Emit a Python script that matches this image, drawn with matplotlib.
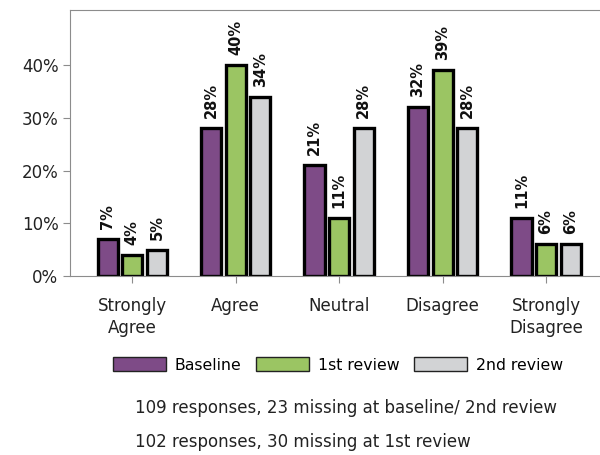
import numpy as np
import matplotlib
matplotlib.use("Agg")
import matplotlib.pyplot as plt
from matplotlib.patches import Patch

categories = ["Strongly\nAgree", "Agree", "Neutral", "Disagree", "Strongly\nDisagree"]
series = ["Baseline", "1st review", "2nd review"]
baseline = [7, 28, 21, 32, 11]
review1 = [4, 40, 11, 39, 6]
review2 = [5, 34, 28, 28, 6]
colors = ["#7e4b87", "#9bc563", "#d2d3d5"]
notes = ["109 responses, 23 missing at baseline/ 2nd review",
         "102 responses, 30 missing at 1st review"]

plt.rcParams['font.family'] = ['DejaVu Sans']
fig = plt.figure(figsize=(6, 4.55), dpi=100)
ax = fig.add_axes([0.117, 0.393, 0.9, 0.585])

x = np.arange(len(categories))
width = 0.195
step = 0.238
for i, (vals, col) in enumerate(zip([baseline, review1, review2], colors)):
    pos = x + (i - 1) * step
    ax.bar(pos, vals, width, color=col, edgecolor="black", linewidth=2.4)
    for p, v in zip(pos, vals):
        ax.text(p, v + 1.9, f"{v}%", rotation=90, ha="center", va="bottom",
                fontsize=10.5, fontweight="bold", color="#111111")

ax.set_xlim(-0.6, 4.62)
ax.set_ylim(0, 50.4)
ax.set_yticks([0, 10, 20, 30, 40])
ax.set_yticklabels([f"{t}%" for t in [0, 10, 20, 30, 40]])
ax.set_xticks(x)
ax.set_xticklabels(categories, linespacing=1.3)
ax.spines["right"].set_visible(False)
for s in ["left", "top", "bottom"]:
    ax.spines[s].set_color("#8c8c8c")
ax.tick_params(axis="both", colors="#8c8c8c", labelcolor="#222222",
               labelsize=12, length=5)
ax.tick_params(axis="x", pad=10)

handles = [Patch(facecolor=c, edgecolor="#222222", linewidth=1) for c in colors]
fig.legend(handles, series, loc="center", bbox_to_anchor=(0.563, 0.198),
           ncol=3, frameon=False, fontsize=11.3, handlelength=3.4,
           handleheight=1.0, handletextpad=0.55, columnspacing=0.9)

fig.text(0.225, 0.103, notes[0], fontsize=12, va="center", color="#222222")
fig.text(0.225, 0.029, notes[1], fontsize=12, va="center", color="#222222")

fig.savefig("out.png", dpi=100)
